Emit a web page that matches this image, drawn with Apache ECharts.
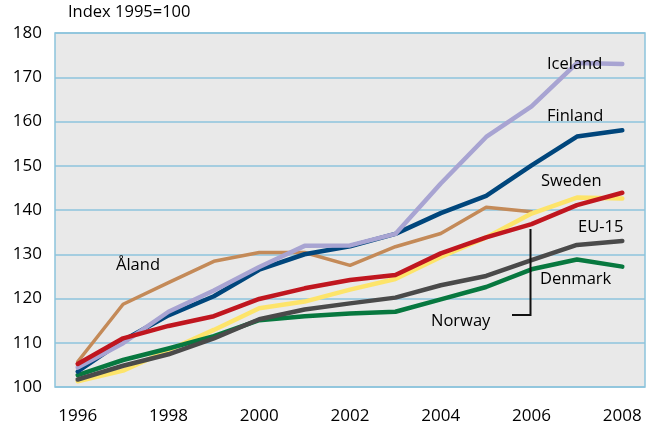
<!DOCTYPE html>
<head>
    <meta charset="utf-8">
    <title>ECharts</title>
</head>
<body style="margin:0">
    <div id="main" style="height:426px;width:648px"></div>
    <script src="https://cdn.jsdelivr.net/npm/echarts@6/dist/echarts.min.js"></script>
    <script type="text/javascript">
    var years = ['1996','1997','1998','1999','2000','2001','2002','2003','2004','2005','2006','2007','2008'];
    var iceland = [104.4, 109.9, 117.0, 121.8, 127.1, 131.9, 132.0, 134.6, 146.0, 156.5, 163.4, 173.2, 173.0];
    var finland = [103.5, 110.5, 116.2, 120.5, 126.5, 130.0, 131.8, 134.6, 139.3, 143.2, 150.1, 156.6, 158.0];
    var norway  = [105.2, 111.0, 113.8, 116.0, 119.9, 122.3, 124.2, 125.3, 130.2, 133.8, 136.8, 141.1, 143.9];
    var sweden  = [101.3, 103.7, 108.3, 112.9, 117.8, 119.3, 122.0, 124.4, 129.4, 133.8, 139.2, 142.8, 142.6];
    var eu15    = [101.7, 104.8, 107.4, 111.0, 115.3, 117.5, 118.9, 120.2, 123.0, 125.1, 128.7, 132.1, 133.0];
    var denmark = [102.7, 106.1, 108.7, 111.5, 115.1, 116.0, 116.6, 117.0, 119.8, 122.6, 126.6, 128.8, 127.2];
    var aland   = [105.7, 118.7, 123.6, 128.4, 130.4, 130.4, 127.5, 131.7, 134.7, 140.6, 139.6, null, null];

    var myChart = echarts.init(document.getElementById("main"));
    var fnt = '"Open Sans", sans-serif';

    function line(name, data, color, width) {
        return {
            name: name,
            type: 'line',
            data: data,
            symbol: 'none',
            connectNulls: false,
            lineStyle: { color: color, width: width, cap: 'round', join: 'round' },
            z: 3
        };
    }

    // text labels sit above the lines
    function label(text, x, y) {
        return {
            type: 'text', left: x, top: y, z: 100,
            style: { text: text, fill: '#000', font: '16.5px ' + fnt }
        };
    }

    var option = {
        animation: false,
        backgroundColor: '#fff',
        grid: { left: 55, right: 3, top: 33, bottom: 39, show: true,
            backgroundColor: '#e9e9e9', borderColor: '#8cc3dc', borderWidth: 1.5 },
        xAxis: {
            type: 'category',
            data: years,
            boundaryGap: true,
            axisLine: { show: false },
            axisTick: { show: false },
            axisLabel: { interval: 1, color: '#000', fontSize: 17, fontFamily: fnt, margin: 21 }
        },
        yAxis: {
            type: 'value',
            min: 100, max: 180, interval: 10,
            axisLine: { show: false },
            axisTick: { show: false },
            axisLabel: { color: '#000', fontSize: 17, fontFamily: fnt, margin: 13 },
            splitLine: { lineStyle: { color: '#8cc3dc', width: 1.5 } }
        },
        graphic: [
            { type: 'text', left: 68, top: 4, style: { text: 'Index 1995=100', fill: '#000', font: '16.5px ' + fnt } },
            label('Iceland', 547, 56),
            label('Finland', 547, 108),
            label('Sweden', 541, 173),
            label('EU-15', 578, 219),
            label('Denmark', 540, 271),
            label('Norway', 431, 313),
            label('Åland', 116, 257),
            { type: 'polyline', shape: { points: [[530.5, 229], [530.5, 315], [512, 315]] },
              style: { stroke: '#111', lineWidth: 2, fill: null }, z: 100 }
        ],
        series: [
            line('Åland', aland, '#c48a58', 3.5),
            line('Sweden', sweden, '#fde46a', 4.5),
            line('Denmark', denmark, '#07783f', 4.5),
            line('EU-15', eu15, '#4a4a4a', 4.5),
            line('Finland', finland, '#00467c', 4.5),
            line('Iceland', iceland, '#a8a4d2', 4.5),
            line('Norway', norway, '#c0161f', 4.5)
        ]
    };
    myChart.setOption(option);
    </script>
</body>
